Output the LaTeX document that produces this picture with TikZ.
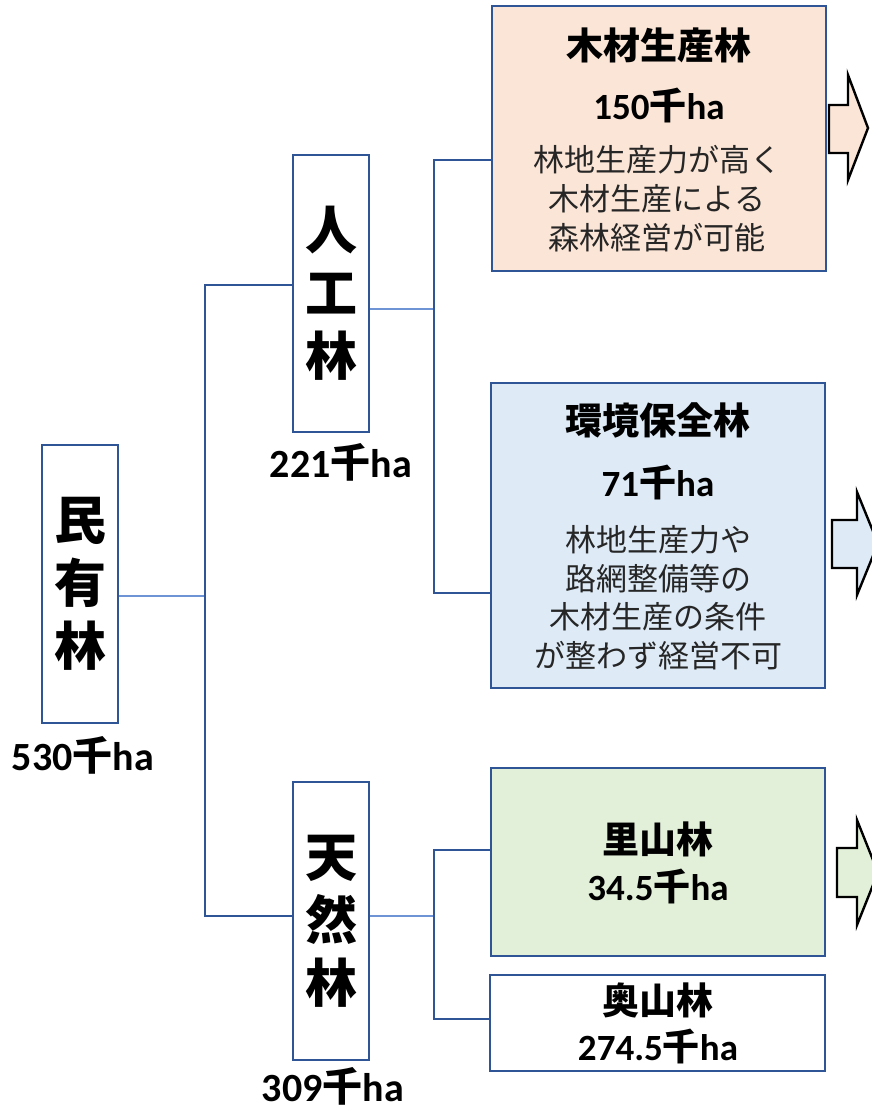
\documentclass[tikz,border=0pt]{standalone}
\usepackage{fontspec}
\setmainfont{Carlito}
\newfontfamily\jp{Noto Sans CJK JP}
\newcommand{\kha}[1]{#1{\jp 千}ha}
\definecolor{frame}{RGB}{47,85,151}
\definecolor{twigblue}{RGB}{110,148,214}
\definecolor{peach}{RGB}{251,229,214}
\definecolor{skyblue}{RGB}{222,235,247}
\definecolor{leaf}{RGB}{226,240,217}
\tikzset{
	tallbox/.style={draw=frame, line width=2.2pt, minimum width=76pt, minimum height=278pt, inner sep=0pt, align=center, font=\jp\bfseries\fontsize{52}{63}\selectfont},
	widebox/.style={draw=frame, line width=2.2pt, minimum width=334pt, inner sep=0pt},
	trunk/.style={frame, line width=2pt},
	twig/.style={twigblue, line width=1.2pt},
	area/.style={font=\bfseries\fontsize{40}{44}\selectfont},
	title/.style={font=\jp\bfseries\fontsize{37}{40}\selectfont},
	amount/.style={font=\bfseries\fontsize{37}{40}\selectfont},
	note/.style={align=center, text=black!85},
	blockarrow/.style={draw=black, line width=2.4pt, line join=miter}
}

\begin{document}
\begin{tikzpicture}[x=1pt, y=-1pt]
	\useasboundingbox[fill=white] (0,0) rectangle (872,1109);
	\node[tallbox] (minyu) at (80,584) {民\\有\\林};
	\node[area] (minyuarea) at (83,755) {\kha{530}};
	\node[tallbox, minimum height=277pt] (jinko) at (331,293.5) {人\\工\\林};
	\node[area] (jinkoarea) at (341,462) {\kha{221}};
	\node[tallbox] (tennen) at (331,921) {天\\然\\林};
	\node[area] (tennenarea) at (333,1086) {\kha{309}};

	\node[widebox, fill=peach, minimum height=265pt] (mokuzai) at (659,138.5) {};
	\node[title] (mokuzaititle) at (659,45) {木材生産林};
	\node[amount] (mokuzaiarea) at (659,105) {\kha{150}};
	\node[note, font=\jp\fontsize{31}{39}\selectfont] (mokuzainote) at (657,199) {林地生産力が高く\\木材生産による\\森林経営が可能};

	\node[widebox, fill=skyblue, minimum height=305pt] (kankyo) at (658,535.5) {};
	\node[title] (kankyotitle) at (658,420) {環境保全林};
	\node[amount] (kankyoarea) at (658,482) {\kha{71}};
	\node[note, font=\jp\fontsize{31}{38.5}\selectfont] (kankyonote) at (658,597.5) {林地生産力や\\路網整備等の\\木材生産の条件\\が整わず経営不可};

	\node[widebox, fill=leaf, minimum height=188pt] (satoyama) at (658,862) {};
	\node[title] (satoyamatitle) at (658,839) {里山林};
	\node[amount] (satoyamaarea) at (658,886) {\kha{34.5}};

	\node[widebox, fill=white, minimum width=335pt, minimum height=96pt] (okuyama) at (657.5,1023) {};
	\node[title] (okuyamatitle) at (658,1000) {奥山林};
	\node[amount] (okuyamaarea) at (658,1046) {\kha{274.5}};

	\coordinate (m) at (205,596);
	\coordinate (mt) at (205,285);
	\coordinate (mb) at (205,916);
	\draw[twig] (minyu.east |- m) -- (m);
	\draw[trunk] (jinko.west |- mt) -- (mt) -- (mb) -- (tennen.west |- mb);

	\coordinate (j) at (434,309);
	\coordinate (jt) at (434,160);
	\coordinate (jb) at (434,593);
	\draw[twig] (jinko.east |- j) -- (j);
	\draw[trunk] (mokuzai.west |- jt) -- (jt) -- (jb) -- (kankyo.west |- jb);

	\coordinate (t) at (434,916);
	\coordinate (tt) at (434,850);
	\coordinate (tb) at (434,1019);
	\draw[twig] (tennen.east |- t) -- (t);
	\draw[trunk] (satoyama.west |- tt) -- (tt) -- (tb) -- (okuyama.west |- tb);

	\draw[blockarrow, fill=peach] (829,105) -- (848,105) -- (848,75) -- (868,128) -- (848,180) -- (848,153) -- (829,153) -- cycle;
	\draw[blockarrow, fill=skyblue] (832,520) -- (857,520) -- (857,492) -- (878,543.5) -- (857,595) -- (857,568) -- (832,568) -- cycle;
	\draw[blockarrow, fill=leaf] (837,848) -- (857,848) -- (857,820) -- (878,872.5) -- (857,925) -- (857,897) -- (837,897) -- cycle;
\end{tikzpicture}
\end{document}
